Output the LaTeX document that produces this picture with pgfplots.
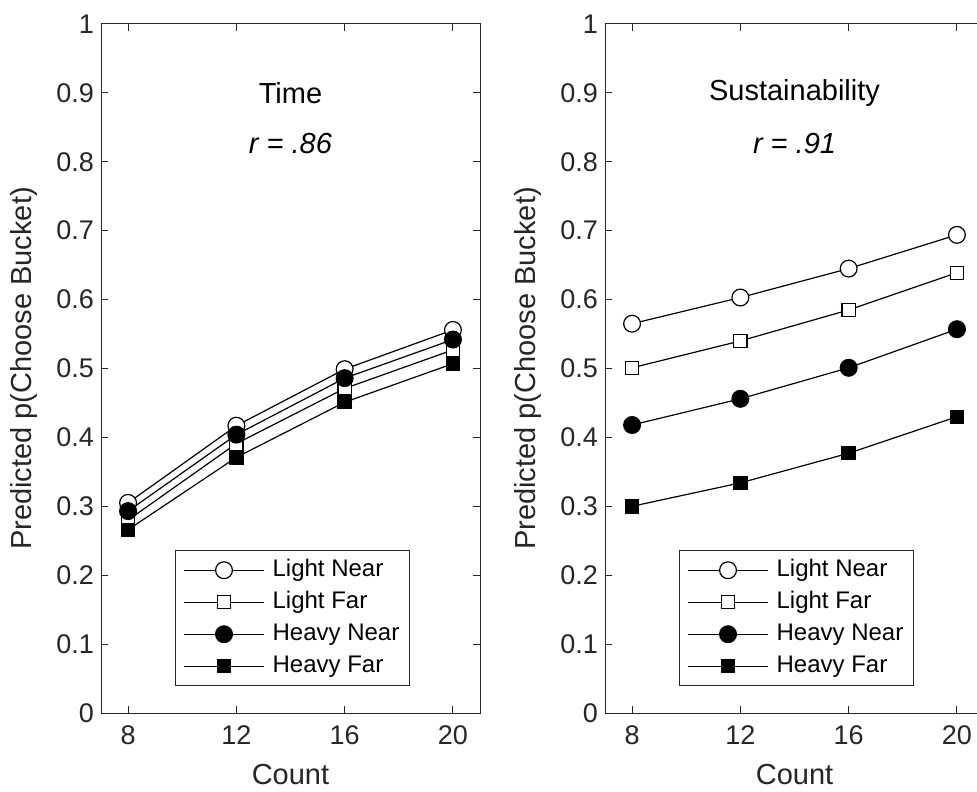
\documentclass[border=0pt]{standalone}
\usepackage{fontspec}
\setmainfont{Liberation Sans}
\usepackage{pgfplots}
\pgfplotsset{compat=1.18}
\definecolor{axgray}{RGB}{38,38,38}

\pgfplotstableread{
x LN LF HN HF
8  0.305 0.280 0.293 0.266
12 0.417 0.391 0.404 0.371
16 0.499 0.471 0.486 0.451
20 0.556 0.527 0.542 0.507
}\timedata

\pgfplotstableread{
x LN LF HN HF
8  0.565 0.501 0.418 0.300
12 0.603 0.540 0.456 0.334
16 0.645 0.585 0.501 0.377
20 0.694 0.639 0.557 0.430
}\susdata

\pgfplotsset{
  myaxis/.style={
    scale only axis, width=189.5pt, height=344.5pt,
    xmin=7, xmax=21, ymin=0, ymax=1,
    xtick={8,12,16,20},
    ytick={0,0.1,0.2,0.3,0.4,0.5,0.6,0.7,0.8,0.9,1},
    tick align=inside, major tick length=3.5pt,
    axis line style={axgray, line width=0.5pt},
    tick style={axgray, line width=0.5pt},
    tick label style={font=\fontsize{13.5}{16}\selectfont, text=axgray},
    /pgf/number format/assume math mode=true,
    yticklabel style={/pgf/number format/fixed, /pgf/number format/precision=1},
    xticklabel style={yshift=-3pt},
    xlabel={Count}, ylabel={Predicted p(Choose Bucket)},
    label style={font=\fontsize{14.5}{17}\selectfont, text=axgray},
    xlabel style={at={(axis description cs:0.5,-0.090)}, anchor=center},
    ylabel style={at={(axis description cs:-0.203,0.5)}, anchor=center},
    legend image code/.code={\draw[mark repeat=2, mark phase=2, ##1] plot coordinates {(0pt,0pt) (20pt,0pt) (40pt,0pt)};},
    legend style={at={(axis description cs:0.195,0.039)}, anchor=south west,
      draw=axgray, line width=0.5pt, font=\fontsize{12}{14}\selectfont,
      inner xsep=4pt, inner ysep=3pt, row sep=2.6pt,
      nodes={inner sep=1pt, text height=8.8pt, text depth=2.6pt},
      /tikz/every odd column/.append style={column sep=3pt}},
    legend cell align=left,
  },
  ln/.style={black, line width=0.6pt, mark=*, mark size=4.2pt, mark options={fill=white, draw=black, line width=0.6pt}},
  lf/.style={black, line width=0.6pt, mark=square*, mark size=3.3pt, mark options={fill=white, draw=black, line width=0.6pt}},
  hn/.style={black, line width=0.6pt, mark=*, mark size=4.2pt, mark options={fill=black, draw=black, line width=0.6pt}},
  hf/.style={black, line width=0.6pt, mark=square*, mark size=3.3pt, mark options={fill=black, draw=black, line width=0.6pt}},
}

\begin{document}
\begin{tikzpicture}
\begin{axis}[myaxis, at={(0pt,0pt)}, anchor=south west]
  \addplot[ln] table[x=x, y=LN] {\timedata};
  \addlegendentry{Light Near}
  \addplot[lf] table[x=x, y=LF] {\timedata};
  \addlegendentry{Light Far}
  \addplot[hn] table[x=x, y=HN] {\timedata};
  \addlegendentry{Heavy Near}
  \addplot[hf] table[x=x, y=HF] {\timedata};
  \addlegendentry{Heavy Far}
  \node[font=\fontsize{14.5}{17}\selectfont, text=black] at (axis cs:14,0.900) {Time};
  \node[font=\fontsize{14.5}{17}\selectfont\itshape, text=black] at (axis cs:14,0.826) {r = .86};
\end{axis}
\begin{axis}[myaxis, at={(252pt,0pt)}, anchor=south west]
  \addplot[ln] table[x=x, y=LN] {\susdata};
  \addlegendentry{Light Near}
  \addplot[lf] table[x=x, y=LF] {\susdata};
  \addlegendentry{Light Far}
  \addplot[hn] table[x=x, y=HN] {\susdata};
  \addlegendentry{Heavy Near}
  \addplot[hf] table[x=x, y=HF] {\susdata};
  \addlegendentry{Heavy Far}
  \node[font=\fontsize{14.5}{17}\selectfont, text=black] at (axis cs:14,0.900) {Sustainability};
  \node[font=\fontsize{14.5}{17}\selectfont\itshape, text=black] at (axis cs:14,0.826) {r = .91};
\end{axis}
\pgfresetboundingbox
\path (-50.5pt,-39pt) rectangle (438pt,356.5pt);
\end{tikzpicture}
\end{document}
